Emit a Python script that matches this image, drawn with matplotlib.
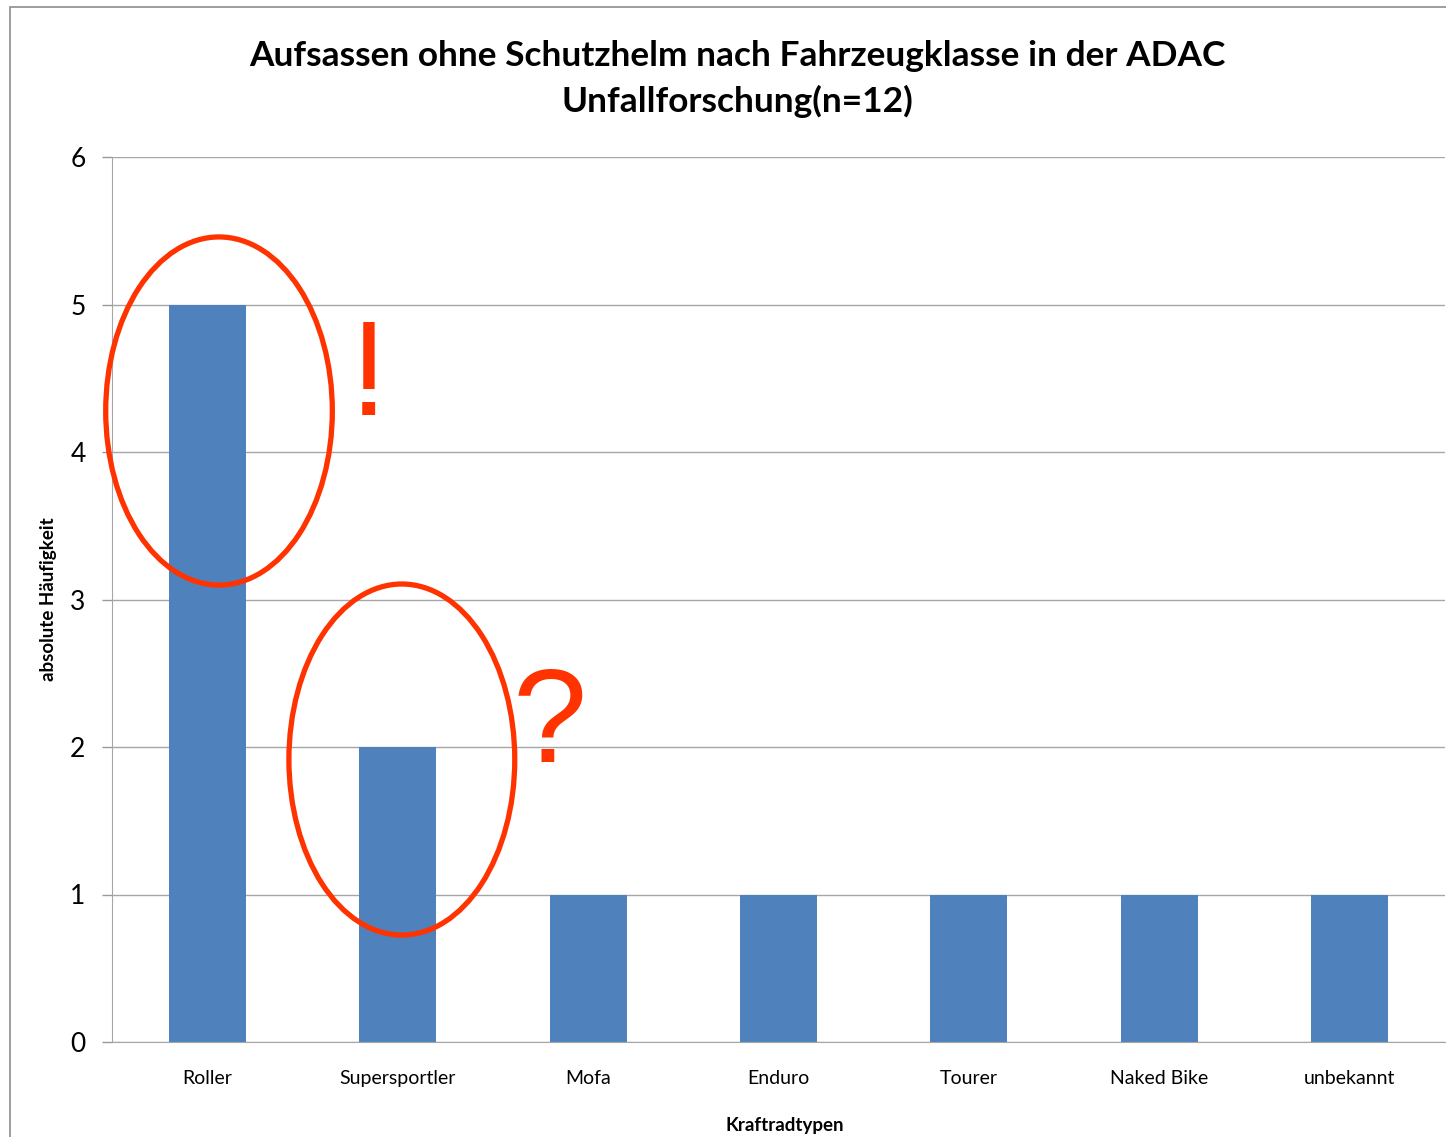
import matplotlib
matplotlib.use("Agg")
import matplotlib.pyplot as plt
from matplotlib.patches import Ellipse, Rectangle

# data
categories = ["Roller", "Supersportler", "Mofa", "Enduro", "Tourer", "Naked Bike", "unbekannt"]
counts = [5, 2, 1, 1, 1, 1, 1]
y_ticks = [0, 1, 2, 3, 4, 5, 6]

title = "Aufsassen ohne Schutzhelm nach Fahrzeugklasse in der ADAC\nUnfallforschung(n=12)"

W, H = 1446, 1137
fig = plt.figure(figsize=(W / 100, H / 100), dpi=100)
fig.patch.set_facecolor("white")

# chart area border (runs off right/bottom edge)
fig.patches.append(Rectangle((10 / W, -0.05), 1.2, 1 - 7 / H + 0.05,
                             transform=fig.transFigure, fill=False,
                             edgecolor="#8c8c8c", linewidth=1.2))

ax = fig.add_axes([112 / W, (H - 1042) / H, (1445 - 112) / W, (1042 - 157) / H])

x = list(range(len(categories)))
ax.bar(x, counts, width=0.405, color="#4F81BD", zorder=2)

ax.set_xlim(-0.5, len(categories) - 0.5)
ax.set_ylim(0, 6)
ax.set_yticks(y_ticks)
ax.set_yticklabels([str(v) for v in y_ticks], fontsize=19, family="Lato")
ax.set_xticks(x)
ax.set_xticklabels(categories, fontsize=14, family="Lato")
ax.tick_params(axis="x", length=0, pad=20)
ax.tick_params(axis="y", length=7, width=1, color="#999999", pad=12)

ax.grid(axis="y", color="#a6a6a6", linewidth=1, zorder=0)
for s in ["top", "right"]:
    ax.spines[s].set_visible(False)
ax.spines["left"].set_color("#a6a6a6")
ax.spines["bottom"].set_color("#a6a6a6")

ax.set_xlabel("Kraftradtypen", fontsize=13.5, fontweight="bold", family="Lato")
ax.set_ylabel("absolute Häufigkeit", fontsize=13.5, fontweight="bold", family="Lato")
ax.xaxis.set_label_coords(0.5045, -0.0949)
ax.yaxis.set_label_coords(-0.048, 0.50)
ax.xaxis.label.set_va("center")
ax.yaxis.label.set_va("center")

fig.text(0.5097, 1 - 79 / H, title, ha="center", va="center", fontsize=25.4,
         fontweight="bold", family="Lato", linespacing=1.45)

# red highlight annotations
red = "#FF3300"
ax.add_patch(Ellipse((0.062, 4.278), 1.19, 2.36, fill=False, edgecolor=red,
                     linewidth=3.8, zorder=5, clip_on=False))
ax.add_patch(Ellipse((1.022, 1.915), 1.186, 2.38, fill=False, edgecolor=red,
                     linewidth=3.8, zorder=5, clip_on=False))
ax.text(0.849, 4.25, "!", color=red, fontsize=98, family="Liberation Sans",
        ha="center", va="baseline", zorder=6)
ax.text(1.799, 1.898, "?", color=red, fontsize=96, family="Liberation Sans",
        ha="center", va="baseline", zorder=6)

fig.savefig("out.png", dpi=100)
